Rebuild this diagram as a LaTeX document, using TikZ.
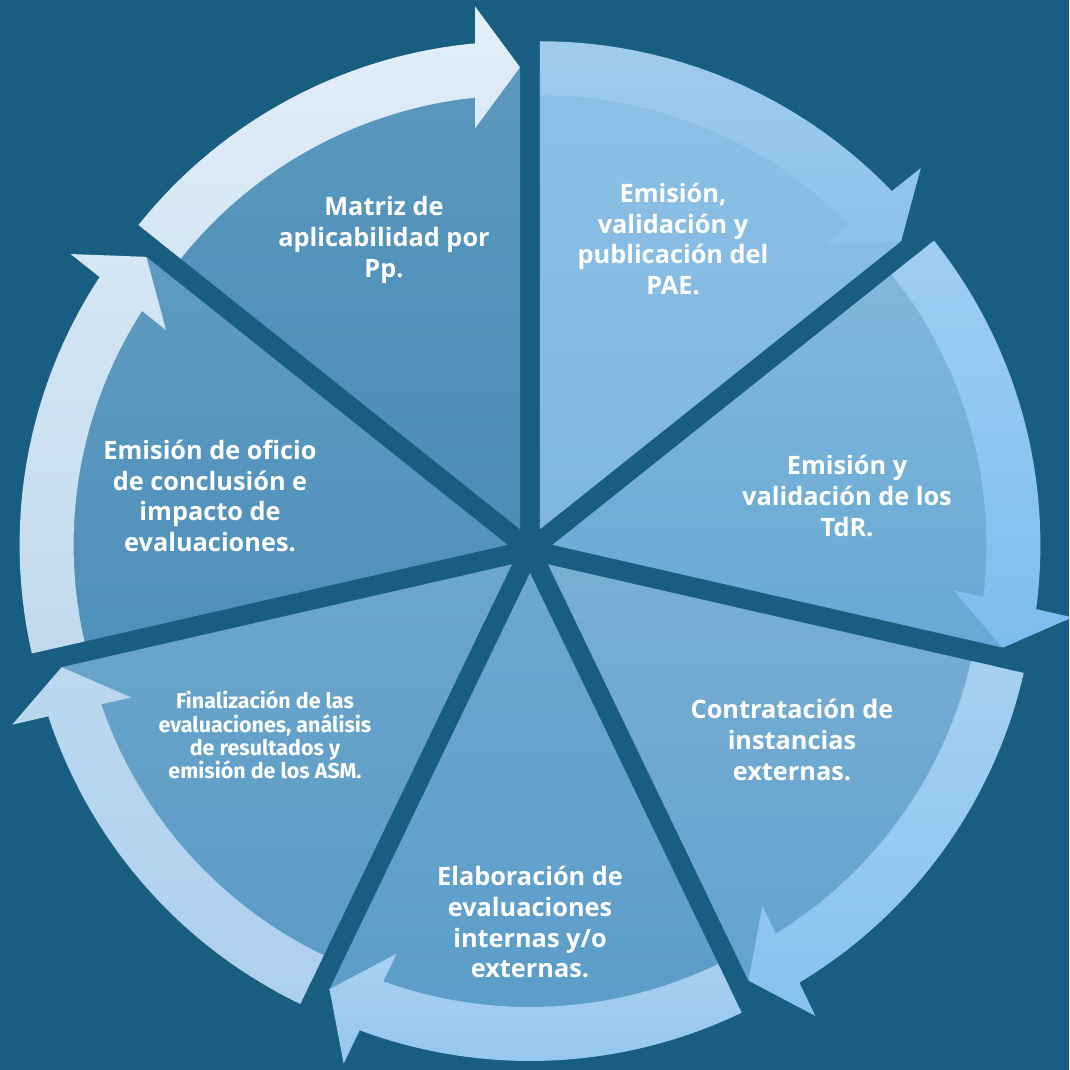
\documentclass[tikz,border=0pt]{standalone}
\usepackage{fontspec}
\setmainfont{Open Sans}
\newfontfamily\finfont{Fira Sans}
\usetikzlibrary{positioning}

\definecolor{bgblue}{HTML}{175E81}
\definecolor{matrizW1}{HTML}{5A98BE}
\definecolor{matrizW2}{HTML}{4C8DB6}
\definecolor{matrizA1}{HTML}{E3EEF8}
\definecolor{matrizA2}{HTML}{D5E6F4}
\definecolor{paeW1}{HTML}{8DC0E6}
\definecolor{paeW2}{HTML}{7FB6E0}
\definecolor{paeA1}{HTML}{A0CBEC}
\definecolor{paeA2}{HTML}{8CC2EA}
\definecolor{tdrW1}{HTML}{84B7DB}
\definecolor{tdrW2}{HTML}{66A9D4}
\definecolor{tdrA1}{HTML}{A0CEF2}
\definecolor{tdrA2}{HTML}{7DBDEF}
\definecolor{contW1}{HTML}{7AAED3}
\definecolor{contW2}{HTML}{62A3CE}
\definecolor{contA1}{HTML}{A6D0F1}
\definecolor{contA2}{HTML}{86C2EE}
\definecolor{elabW1}{HTML}{6CA8CF}
\definecolor{elabW2}{HTML}{5A9CC8}
\definecolor{elabA1}{HTML}{A9D0F0}
\definecolor{elabA2}{HTML}{93C6EE}
\definecolor{finW1}{HTML}{6CA6CB}
\definecolor{finW2}{HTML}{5A9BC6}
\definecolor{finA1}{HTML}{BCD8F0}
\definecolor{finA2}{HTML}{ADD0EE}
\definecolor{oficW1}{HTML}{5E9BC0}
\definecolor{oficW2}{HTML}{4F90BA}
\definecolor{oficA1}{HTML}{D5E6F4}
\definecolor{oficA2}{HTML}{C2DAEE}

\begin{document}
\begin{tikzpicture}[
    x=0.01cm, y=0.01cm,
    steptext/.style={text=white, font=\bfseries\fontsize{7.2}{8.8}\selectfont, align=center},
    smalltext/.style={text=white, font=\finfont\bfseries\fontsize{6.1}{6.6}\selectfont, align=center}
    ]

    \useasboundingbox (0,0) rectangle (1069,1070);
    \clip (0,0) rectangle (1069,1070);
    \fill[bgblue] (0,0) rectangle (1069,1070);

    % the seven pieces, clockwise from the top left one
    \begin{scope}[shift={(530,520)}]
    \foreach \s/\name in {141.43/matriz, 90/pae, 38.57/tdr, -12.86/cont, -64.29/elab, -115.71/fin, -167.14/ofic}
    {
      \pgfmathsetmacro{\e}{\s-51.4286}
      \pgfmathsetmacro{\b}{\s-25.7143}
      \begin{scope}[shift={(\b:23)}]
        % wedge
        \path[top color=\name W1, bottom color=\name W2]
          (0,0) -- (\s:461) arc[start angle=\s, end angle=\e, radius=461] -- cycle;
        % curved arrow
        \path[top color=\name A1, bottom color=\name A2]
          (\s:488) arc[start angle=\s, end angle={\e+5.29}, radius=488]
          -- ({\e+4.92}:524.9) -- (\e:462) -- ({\e+6.40}:403.5)
          -- ({\e+5.95}:434) arc[start angle={\e+5.95}, end angle=\s, radius=434] -- cycle;
      \end{scope}
    }
    \end{scope}

    \node[steptext] (matriz) at (384,830) {Matriz de\\aplicabilidad por\\Pp.};
    \node[steptext] (pae) at (673,831) {Emisión,\\validación y\\publicación del\\PAE.};
    \node[steptext] (tdr) at (847,574) {Emisión y\\validación de los\\TdR.};
    \node[steptext] (contrat) at (792,330) {Contratación de\\instancias\\externas.};
    \node[steptext] (elab) at (530,148) {Elaboración de\\evaluaciones\\internas y/o\\externas.};
    \node[smalltext] (final) at (265,335) {Finalización de las\\evaluaciones, análisis\\de resultados y\\emisión de los ASM.};
    \node[steptext] (oficio) at (210,574) {Emisión de oficio\\de conclusión e\\impacto de\\evaluaciones.};

\end{tikzpicture}
\end{document}
